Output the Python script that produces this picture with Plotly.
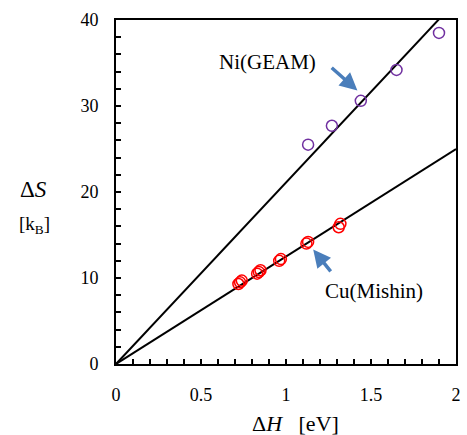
import plotly.graph_objects as go

# Data
ni_H = [1.13, 1.27, 1.44, 1.65, 1.90]
ni_S = [25.5, 27.7, 30.6, 34.2, 38.5]

cu_H = [0.72, 0.73, 0.74, 0.83, 0.84, 0.85, 0.96, 0.97, 1.12, 1.13, 1.31, 1.32]
cu_S = [9.3, 9.5, 9.7, 10.5, 10.7, 10.9, 12.0, 12.2, 14.0, 14.2, 15.9, 16.3]

fit_H = [0, 2]
ni_fit_S = [0, 42.2]
cu_fit_S = [0, 25.0]

x_ticks = [0, 0.5, 1, 1.5, 2]
x_tick_labels = ["0", "0.5", "1", "1.5", "2"]
y_ticks = [0, 10, 20, 30, 40]

FONT = "Times New Roman, Liberation Serif, DejaVu Serif, serif"

fig = go.Figure()
fig.add_trace(go.Scatter(x=fit_H, y=ni_fit_S, mode="lines",
                         line=dict(color="black", width=2), showlegend=False))
fig.add_trace(go.Scatter(x=fit_H, y=cu_fit_S, mode="lines",
                         line=dict(color="black", width=2), showlegend=False))
fig.add_trace(go.Scatter(x=ni_H, y=ni_S, mode="markers",
                         marker=dict(symbol="circle-open", size=11, color="#7030A0",
                                     line=dict(width=1.5, color="#7030A0")), showlegend=False))
fig.add_trace(go.Scatter(x=cu_H, y=cu_S, mode="markers",
                         marker=dict(symbol="circle-open", size=11, color="#FF0000",
                                     line=dict(width=1.5, color="#FF0000")), showlegend=False))

arrow_col = "#4A7EBB"
annotations = [
    # Ni arrow
    dict(x=1.42, y=31.8, ax=1.26, ay=34.6, xref="x", yref="y", axref="x", ayref="y",
         text="", showarrow=True, arrowhead=2, arrowsize=1, arrowwidth=3.5, arrowcolor=arrow_col),
    # Cu arrow
    dict(x=1.16, y=13.3, ax=1.27, ay=10.6, xref="x", yref="y", axref="x", ayref="y",
         text="", showarrow=True, arrowhead=2, arrowsize=1, arrowwidth=3.5, arrowcolor=arrow_col),
    dict(x=0.893, y=35.1, xref="x", yref="y", text="Ni(GEAM)", showarrow=False,
         font=dict(family=FONT, size=21, color="black")),
    dict(x=1.516, y=8.54, xref="x", yref="y", text="Cu(Mishin)", showarrow=False,
         font=dict(family=FONT, size=21, color="black")),
    dict(x=-0.243, y=0.506, xref="paper", yref="paper", xanchor="center", yanchor="middle",
         text="Δ<i>S</i>", showarrow=False, font=dict(family=FONT, size=23, color="black")),
    dict(x=-0.24, y=0.404, xref="paper", yref="paper", xanchor="center", yanchor="middle",
         text="[k<sub>B</sub>]", showarrow=False, font=dict(family=FONT, size=19, color="black")),
    dict(x=0.528, y=-0.172, xref="paper", yref="paper", xanchor="center", yanchor="middle",
         text="Δ<i>H</i>   [eV]", showarrow=False, font=dict(family=FONT, size=22, color="black")),
]

fig.update_layout(
    width=467, height=435,
    margin=dict(l=116, r=6, t=20, b=71),
    plot_bgcolor="white", paper_bgcolor="white",
    font=dict(family=FONT, size=18, color="black"),
    annotations=annotations,
)

fig.update_xaxes(range=[0, 2], tickvals=x_ticks, ticktext=x_tick_labels,
                 showgrid=False, zeroline=False, showline=True, linecolor="black", linewidth=2,
                 mirror=True, ticks="inside", ticklen=5, tickwidth=1.5, tickcolor="black",
                 minor=dict(dtick=0.1, ticks="inside", ticklen=5, tickwidth=1.5, tickcolor="black"),
                 ticklabelstandoff=13,
                 tickfont=dict(family=FONT, size=18, color="black"))
fig.update_yaxes(range=[0, 40], tickvals=y_ticks,
                 showgrid=False, zeroline=False, showline=True, linecolor="black", linewidth=2,
                 mirror=True, ticks="inside", ticklen=5, tickwidth=1.5, tickcolor="black",
                 minor=dict(dtick=2, ticks="inside", ticklen=5, tickwidth=1.5, tickcolor="black"),
                 ticklabelstandoff=12,
                 tickfont=dict(family=FONT, size=18, color="black"))

fig.write_html("out.html", config={"displayModeBar": False})

with open("out.html", "r", encoding="utf-8") as f:
    html = f.read()
html = html.replace("<head>", "<head><style>html,body{margin:0;padding:0;overflow:hidden;}</style>", 1)
with open("out.html", "w", encoding="utf-8") as f:
    f.write(html)
